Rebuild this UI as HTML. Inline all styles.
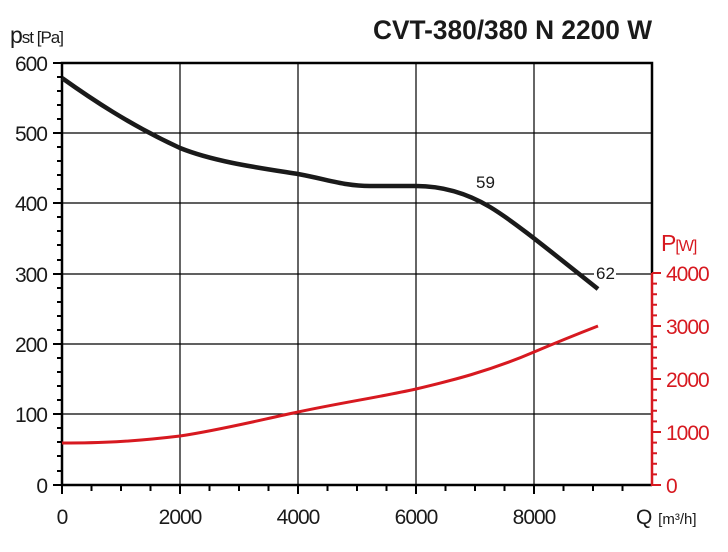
<!DOCTYPE html><html><head><style>body{margin:0;background:#fff}svg{display:block}text{font-family:"Liberation Sans",sans-serif}</style></head><body>
<svg width="728" height="552" viewBox="0 0 728 552">
<g stroke="#000" stroke-width="1.2">
<line x1="180" y1="63" x2="180" y2="485"/><line x1="298" y1="63" x2="298" y2="485"/><line x1="416" y1="63" x2="416" y2="485"/><line x1="534" y1="63" x2="534" y2="485"/>
<line x1="62" y1="133" x2="652" y2="133"/><line x1="62" y1="203" x2="652" y2="203"/><line x1="62" y1="274" x2="652" y2="274"/><line x1="62" y1="344" x2="652" y2="344"/><line x1="62" y1="414" x2="652" y2="414"/>
</g>
<rect x="594" y="264" width="22" height="18" fill="#fff"/>
<g stroke="#000" stroke-width="2.5" fill="none">
<polyline points="652,485 62,485 62,63 652,63 652,273"/>
</g>
<g stroke="#000" stroke-width="2">
<line x1="53" y1="63" x2="62" y2="63"/><line x1="53" y1="133" x2="62" y2="133"/><line x1="53" y1="203" x2="62" y2="203"/><line x1="53" y1="274" x2="62" y2="274"/><line x1="53" y1="344" x2="62" y2="344"/><line x1="53" y1="414" x2="62" y2="414"/><line x1="53" y1="485" x2="62" y2="485"/>
<path d="M57 77H62M57 91H62M57 105H62M57 119H62M57 147H62M57 161H62M57 175H62M57 189H62M57 217H62M57 231H62M57 245H62M57 260H62M57 288H62M57 302H62M57 316H62M57 330H62M57 358H62M57 372H62M57 386H62M57 400H62M57 428H62M57 442H62M57 456H62M57 471H62"/>
<path d="M62 485V494M180 485V494M298 485V494M416 485V494M534 485V494M91.5 485V491M121 485V491M150.5 485V491M209.5 485V491M239 485V491M268.5 485V491M327.5 485V491M357 485V491M386.5 485V491M445.5 485V491M475 485V491M504.5 485V491M563.5 485V491M593 485V491M622.5 485V491"/>
</g>
<line x1="652" y1="273" x2="652" y2="486" stroke="#d71920" stroke-width="2.5"/>
<g stroke="#d71920" stroke-width="2">
<path d="M652 485H661M652 432H661M652 379H661M652 326H661M652 273H661M652 474.4H657M652 463.8H657M652 453.2H657M652 442.6H657M652 421.4H657M652 410.8H657M652 400.2H657M652 389.6H657M652 368.4H657M652 357.8H657M652 347.2H657M652 336.6H657M652 315.4H657M652 304.8H657M652 294.2H657M652 283.6H657"/>
</g>
<path d="M62,78 C90,98 130,125 180,148 C215,162 260,168 298,174 C330,180 345,186 370,186 L416,186 C445,186 470,195 490,207 C515,222 555,255 598,289" fill="none" stroke="#1a1a1a" stroke-width="4.5"/>
<path d="M62,443 C100,443 130,442 180,436 C220,430 260,420 298,412 C340,403 380,397 416,389 C450,381 490,371 534,352 C560,341 580,333 598,326" fill="none" stroke="#d71920" stroke-width="3"/>
<g font-size="21" fill="#1a1a1a" text-anchor="end" letter-spacing="-1">
<text x="47" y="71">600</text><text x="47" y="141">500</text><text x="47" y="211">400</text><text x="47" y="282">300</text><text x="47" y="352">200</text><text x="47" y="422">100</text><text x="47" y="493">0</text>
</g>
<g font-size="21" fill="#1a1a1a" text-anchor="middle" letter-spacing="-1">
<text x="62" y="524">0</text><text x="180" y="524">2000</text><text x="298" y="524">4000</text><text x="416" y="524">6000</text><text x="534" y="524">8000</text>
</g>
<text x="636" y="524" font-size="21" fill="#1a1a1a">Q <tspan font-size="15">[m³/h]</tspan></text>
<g font-size="21" fill="#d71920" letter-spacing="-1">
<text x="666" y="493">0</text><text x="666" y="440">1000</text><text x="666" y="387">2000</text><text x="666" y="334">3000</text><text x="666" y="281">4000</text>
<text x="661" y="251" font-size="23">P<tspan font-size="16">[W]</tspan></text>
</g>
<text x="10" y="43" font-size="23" fill="#1a1a1a" letter-spacing="-1">p<tspan font-size="17">st [Pa]</tspan></text>
<text x="373" y="39" font-size="27" font-weight="bold" fill="#1a1a1a" textLength="279" lengthAdjust="spacingAndGlyphs">CVT-380/380 N 2200 W</text>
<text x="476" y="188" font-size="17" fill="#1a1a1a">59</text>
<text x="596" y="279" font-size="17" fill="#1a1a1a">62</text>
</svg></body></html>
